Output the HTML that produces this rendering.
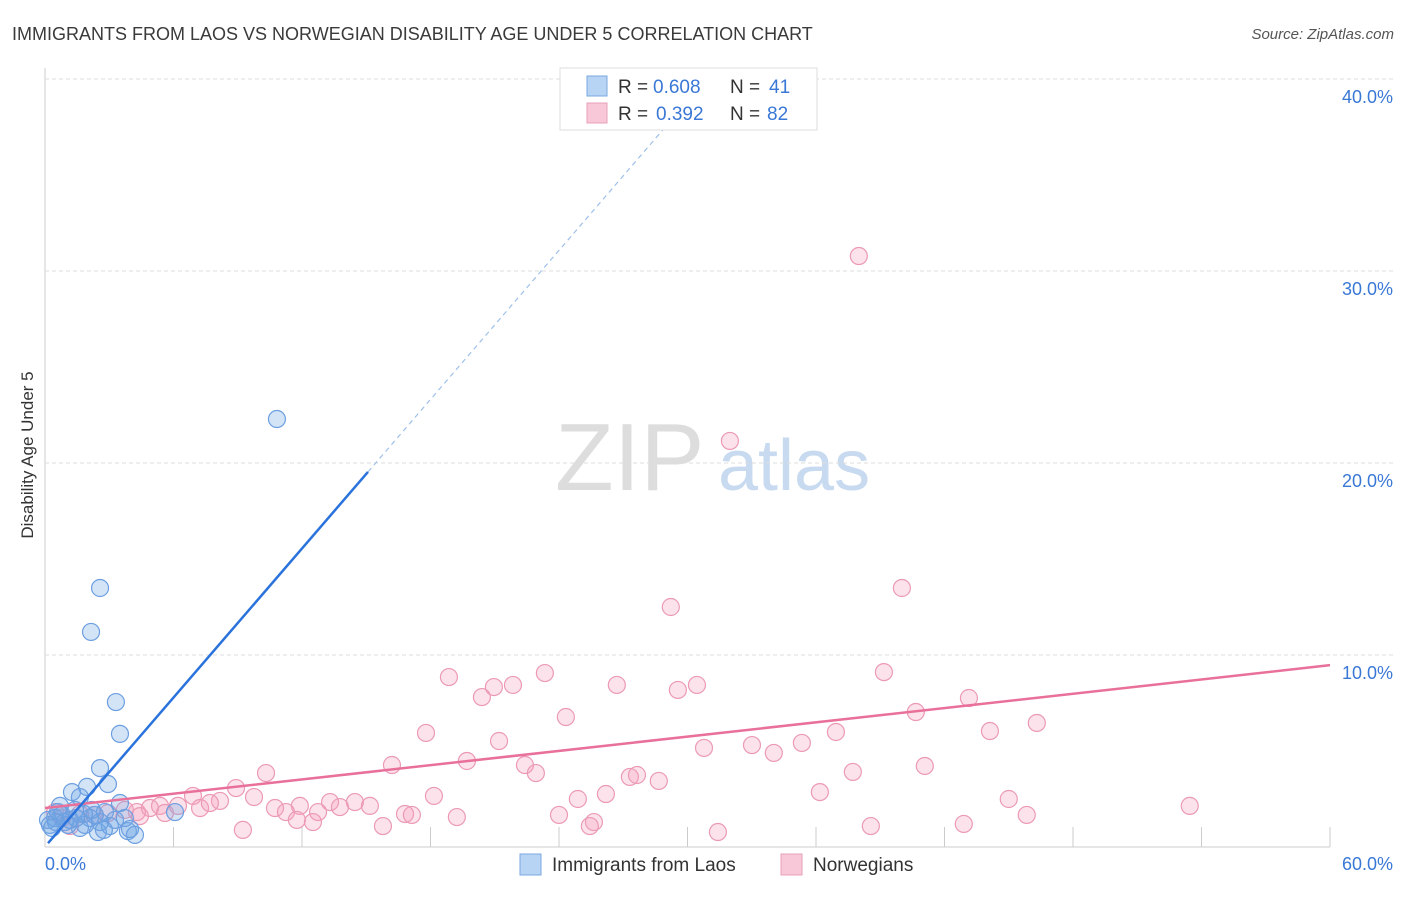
<!DOCTYPE html>
<html><head><meta charset="utf-8"><style>
body{margin:0;background:#fff;font-family:"Liberation Sans",sans-serif;}
svg text{font-family:"Liberation Sans",sans-serif;}
</style></head><body>
<svg id="c" width="1406" height="892" xmlns="http://www.w3.org/2000/svg">
<text x="12" y="40" font-size="18" fill="#3a3a3a">IMMIGRANTS FROM LAOS VS NORWEGIAN DISABILITY AGE UNDER 5 CORRELATION CHART</text>
<text x="1394" y="39" font-size="15" fill="#555" text-anchor="end" font-style="italic">Source: ZipAtlas.com</text>
<text x="33" y="455" font-size="17" fill="#333" text-anchor="middle" transform="rotate(-90 33 455)">Disability Age Under 5</text>
<text x="555" y="490" font-size="96" fill="#ddd" font-family="Liberation Serif">ZIP</text>
<text x="718" y="490" font-size="72" fill="#c8daf0">atlas</text>
<g id="grid"></g><g id="marks"></g>
<g>
<rect x="560" y="68" width="257" height="62" fill="#fff" stroke="#ddd"/>
<rect x="587" y="76" width="20" height="20" fill="#b8d4f4" stroke="#7aa8e0"/>
<rect x="587" y="103" width="20" height="20" fill="#f9c8d8" stroke="#e8a0b8"/>
<text x="618" y="93" font-size="19" fill="#333">R =</text>
<text x="653" y="93" font-size="19" fill="#3a78d6">0.608</text>
<text x="730" y="93" font-size="19" fill="#333">N =</text>
<text x="769" y="93" font-size="19" fill="#3a78d6">41</text>
<text x="618" y="120" font-size="19" fill="#333">R =</text>
<text x="656" y="120" font-size="19" fill="#3a78d6">0.392</text>
<text x="730" y="120" font-size="19" fill="#333">N =</text>
<text x="767" y="120" font-size="19" fill="#3a78d6">82</text>
</g>
<g>
<rect x="520" y="854" width="21" height="21" fill="#b8d4f4" stroke="#7aa8e0"/>
<text x="552" y="871" font-size="19" fill="#333">Immigrants from Laos</text>
<rect x="781" y="854" width="21" height="21" fill="#f9c8d8" stroke="#e8a0b8"/>
<text x="813" y="871" font-size="19" fill="#333">Norwegians</text>
</g>
</svg>
<script>
const yTicks=[10,20,30,40];
const xTickLabels=["0.0%","60.0%"];
const blueX=[10.83,2.57,2.15,3.31,3.50,2.57,2.94,1.26,1.96,1.63,3.50,0.70,1.40,2.33,2.80,0.47,0.93,1.87,3.03,3.87,4.20,2.47,0.23,6.07,0.33,0.79,1.17,2.10,3.27,3.73,0.14,0.61,1.63,2.57,3.97,1.07,1.82,2.75,0.51,1.45,2.19];
const blueY=[22.29,13.49,11.20,7.55,5.89,4.11,3.28,2.86,3.13,2.60,2.29,2.14,1.93,1.67,1.82,1.51,1.30,1.15,1.09,0.83,0.63,0.78,1.15,1.82,0.99,1.67,1.41,1.51,1.41,1.51,1.41,1.82,0.99,1.30,0.94,1.15,1.72,0.89,1.30,1.51,1.93];
const pinkX=[38.0,31.98,29.22,40.01,18.86,23.34,20.96,21.85,20.40,26.70,29.55,30.44,39.17,24.32,17.79,43.14,40.66,46.31,44.12,21.20,36.93,30.77,33.01,35.34,34.03,19.70,16.20,22.41,22.92,10.32,8.92,6.91,8.17,9.76,27.31,28.66,27.64,37.72,41.08,36.18,45.0,53.45,18.16,24.88,26.19,10.74,11.90,13.31,14.47,15.17,16.81,17.13,19.23,24.0,45.84,11.25,12.75,13.77,12.51,11.76,15.78,9.24,25.63,25.44,31.42,38.56,42.90,4.90,5.37,6.21,7.24,7.70,4.29,3.73,2.94,2.29,1.63,0.79,0.47,1.17,4.43,5.60];
const pinkY=[30.78,21.15,12.5,13.49,8.85,9.06,8.33,8.44,7.81,8.44,8.18,8.44,9.11,6.77,5.94,7.76,7.03,6.46,6.04,5.52,5.99,5.16,5.31,5.42,4.90,4.48,4.27,4.27,3.85,3.85,3.07,2.66,2.40,2.60,3.65,3.44,3.75,3.91,4.22,2.86,2.5,2.14,2.66,2.50,2.76,2.03,2.14,2.34,2.34,2.14,1.72,1.67,1.56,1.67,1.67,1.82,1.82,2.08,1.30,1.41,1.09,0.89,1.30,1.09,0.78,1.09,1.20,2.03,2.14,2.14,2.03,2.29,1.82,1.93,1.77,1.67,1.72,1.51,1.82,1.09,1.61,1.77];
const blueFit=[0.02,1.294];
const pinkFit=[2.03,0.124];
const X=v=>45+v*21.417, Y=v=>847-v*19.2;
const NS="http://www.w3.org/2000/svg";
const g=document.getElementById('grid'), m=document.getElementById('marks');
function mk(p,tag,at){const e=document.createElementNS(NS,tag);for(const k in at)e.setAttribute(k,at[k]);p.appendChild(e);return e;}
let ax=mk(g,'line',{x1:45,y1:68,x2:45,y2:847,stroke:'#ccc'});


let bx=mk(g,'line',{x1:45,y1:847,x2:1330,y2:847,stroke:'#ccc'});


yTicks.forEach(t=>{
 let l=mk(g,'line',{x1:45,x2:1395,y1:Y(t),y2:Y(t),stroke:'#ddd','stroke-dasharray':'4 3'});
 
 
 let tx=mk(g,'text',{x:1393,y:Y(t)+24,'font-size':18,fill:'#3a78d6','text-anchor':'end'});tx.textContent=t.toFixed(1)+'%';
 
 
});
for(let i=1;i<=10;i++){let l=mk(g,'line',{x1:X(i*6),x2:X(i*6),y1:827,y2:847,stroke:'#ccc'});
 
 }
let t0=mk(g,'text',{x:45,y:870,'font-size':18,fill:'#3a78d6'});t0.textContent=xTickLabels[0];


let t1=mk(g,'text',{x:1393,y:870,'font-size':18,fill:'#3a78d6','text-anchor':'end'});t1.textContent=xTickLabels[1];


pinkX.forEach((x,i)=>{let c=mk(m,'circle',{cx:X(x),cy:Y(pinkY[i]),r:8.5,fill:'rgba(244,160,188,0.3)',stroke:'#eb9ab5','stroke-width':1.2});
 
 });
blueX.forEach((x,i)=>{let c=mk(m,'circle',{cx:X(x),cy:Y(blueY[i]),r:8.5,fill:'rgba(110,165,230,0.3)',stroke:'#6d9fe0','stroke-width':1.2});
 
 });
let pl=mk(m,'line',{x1:X(0),y1:Y(pinkFit[0]),x2:X(60),y2:Y(pinkFit[0]+pinkFit[1]*60),stroke:'#e8709a','stroke-width':2.5});


let bl=mk(m,'line',{x1:X(0.14),y1:Y(blueFit[0]+blueFit[1]*0.14),x2:X(15.08),y2:Y(blueFit[0]+blueFit[1]*15.08),stroke:'#2a72dc','stroke-width':2.5});


let bd=mk(m,'line',{x1:X(15.08),y1:Y(blueFit[0]+blueFit[1]*15.08),x2:X(29.2),y2:Y(blueFit[0]+blueFit[1]*29.2),stroke:'#9fc0ea','stroke-width':1.2,'stroke-dasharray':'5 4'});


</script>
</body></html>
